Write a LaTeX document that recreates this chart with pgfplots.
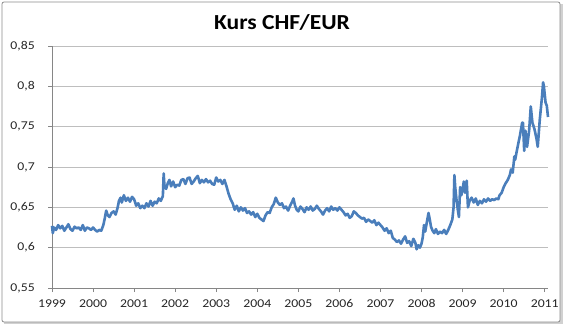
\documentclass[border=0pt]{standalone}
\usepackage{pgfplots}
\pgfplotsset{compat=1.18}
\usepackage{fontspec}
\setmainfont{Carlito}
\definecolor{serie}{RGB}{74,126,187}
\definecolor{gridc}{RGB}{190,190,190}
\definecolor{axc}{RGB}{134,134,134}
\definecolor{frame}{RGB}{140,140,140}
\begin{document}
\begin{tikzpicture}[x=1bp,y=1bp]
\useasboundingbox (0,0) rectangle (564,325);
\fill[black!18] (4,1) rectangle (563,321);
\draw[frame,fill=white,line width=0.8bp,rounded corners=2bp] (2,3) rectangle (560,323);
\node[anchor=base,xscale=1.1,font=\fontsize{21.5}{24}\selectfont\bfseries] at (282,296) {Kurs CHF/EUR};
\begin{axis}[
  at={(52bp,37bp)}, anchor=south west,
  scale only axis, width=496bp, height=242bp,
  xmin=1999, xmax=2011.08, ymin=0.55, ymax=0.85,
  axis x line*=bottom, axis y line*=left,
  axis line style={axc, line width=0.8bp},
  xtick={1999,2000,2001,2002,2003,2004,2005,2006,2007,2008,2009,2010,2011},
  xticklabels={1999,2000,2001,2002,2003,2004,2005,2006,2007,2008,2009,2010,2011},
  ytick={0.55,0.6,0.65,0.7,0.75,0.8,0.85},
  yticklabels={{0,55},{0,6},{0,65},{0,7},{0,75},{0,8},{0,85}},
  tick align=outside, major tick length=4bp,
  tick style={axc, line width=0.8bp},
  ymajorgrids, grid style={gridc, line width=0.8bp},
  tick label style={font=\fontsize{12}{14}\selectfont, text=black!85, xscale=1.15},
  xticklabel style={yshift=-4bp},
  yticklabel style={xshift=-8bp},
  /pgf/number format/assume math mode=true,
  clip=false,
]
\addplot[serie, line width=2.6bp, line join=round] table {
1999.00 0.627
1999.02 0.618
1999.05 0.625
1999.10 0.622
1999.15 0.628
1999.20 0.624
1999.25 0.627
1999.30 0.621
1999.35 0.625
1999.40 0.629
1999.45 0.623
1999.50 0.621
1999.55 0.626
1999.60 0.624
1999.65 0.625
1999.70 0.622
1999.75 0.628
1999.80 0.621
1999.85 0.625
1999.90 0.624
1999.95 0.622
2000.00 0.625
2000.05 0.622
2000.10 0.620
2000.15 0.622
2000.20 0.621
2000.25 0.628
2000.28 0.635
2000.32 0.646
2000.36 0.640
2000.40 0.638
2000.45 0.643
2000.50 0.645
2000.55 0.641
2000.60 0.650
2000.63 0.658
2000.67 0.662
2000.70 0.656
2000.75 0.665
2000.80 0.658
2000.85 0.662
2000.90 0.657
2000.95 0.663
2001.00 0.660
2001.05 0.652
2001.10 0.655
2001.15 0.649
2001.20 0.652
2001.25 0.649
2001.30 0.655
2001.35 0.651
2001.40 0.658
2001.45 0.652
2001.50 0.657
2001.55 0.655
2001.60 0.661
2001.65 0.658
2001.70 0.664
2001.72 0.692
2001.74 0.675
2001.78 0.673
2001.82 0.680
2001.86 0.684
2001.90 0.676
2001.95 0.682
2002.00 0.675
2002.05 0.678
2002.10 0.677
2002.15 0.684
2002.20 0.685
2002.25 0.679
2002.30 0.686
2002.35 0.687
2002.40 0.679
2002.45 0.682
2002.50 0.686
2002.55 0.689
2002.60 0.680
2002.65 0.684
2002.70 0.681
2002.75 0.685
2002.80 0.681
2002.85 0.683
2002.90 0.679
2002.95 0.678
2003.00 0.687
2003.05 0.682
2003.10 0.684
2003.15 0.679
2003.20 0.684
2003.25 0.676
2003.30 0.667
2003.35 0.660
2003.40 0.655
2003.45 0.647
2003.50 0.652
2003.55 0.645
2003.60 0.650
2003.65 0.646
2003.70 0.649
2003.75 0.643
2003.80 0.645
2003.85 0.641
2003.90 0.644
2003.95 0.638
2004.00 0.642
2004.05 0.637
2004.10 0.635
2004.15 0.633
2004.20 0.640
2004.25 0.644
2004.30 0.643
2004.35 0.650
2004.40 0.654
2004.45 0.662
2004.50 0.656
2004.55 0.653
2004.60 0.655
2004.65 0.649
2004.70 0.651
2004.75 0.646
2004.80 0.652
2004.85 0.657
2004.88 0.661
2004.92 0.652
2004.96 0.647
2005.00 0.645
2005.05 0.651
2005.10 0.648
2005.15 0.644
2005.20 0.650
2005.25 0.647
2005.30 0.651
2005.35 0.646
2005.40 0.648
2005.45 0.652
2005.50 0.648
2005.55 0.645
2005.60 0.641
2005.65 0.646
2005.70 0.649
2005.75 0.645
2005.80 0.651
2005.85 0.647
2005.90 0.649
2005.95 0.646
2006.00 0.650
2006.05 0.647
2006.10 0.644
2006.15 0.640
2006.20 0.642
2006.25 0.637
2006.30 0.639
2006.35 0.645
2006.40 0.643
2006.45 0.640
2006.50 0.638
2006.55 0.636
2006.60 0.637
2006.65 0.632
2006.70 0.635
2006.75 0.633
2006.80 0.631
2006.85 0.634
2006.90 0.628
2006.95 0.631
2007.00 0.628
2007.05 0.625
2007.10 0.621
2007.15 0.624
2007.20 0.618
2007.25 0.621
2007.30 0.612
2007.35 0.610
2007.40 0.607
2007.45 0.609
2007.50 0.605
2007.55 0.610
2007.60 0.614
2007.65 0.606
2007.70 0.608
2007.75 0.602
2007.80 0.611
2007.85 0.606
2007.88 0.598
2007.92 0.603
2007.96 0.600
2008.00 0.605
2008.03 0.613
2008.06 0.628
2008.09 0.620
2008.13 0.632
2008.17 0.643
2008.20 0.635
2008.23 0.626
2008.27 0.621
2008.31 0.618
2008.35 0.623
2008.40 0.617
2008.45 0.620
2008.50 0.618
2008.55 0.622
2008.60 0.617
2008.65 0.622
2008.70 0.628
2008.75 0.635
2008.78 0.650
2008.80 0.690
2008.82 0.675
2008.85 0.660
2008.88 0.648
2008.91 0.638
2008.94 0.675
2008.97 0.665
2009.00 0.673
2009.03 0.682
2009.06 0.668
2009.10 0.683
2009.13 0.650
2009.17 0.658
2009.22 0.662
2009.27 0.656
2009.32 0.661
2009.37 0.653
2009.42 0.658
2009.47 0.655
2009.52 0.660
2009.57 0.657
2009.62 0.661
2009.67 0.658
2009.72 0.660
2009.77 0.659
2009.82 0.661
2009.87 0.660
2009.90 0.665
2009.95 0.668
2010.00 0.675
2010.05 0.680
2010.10 0.684
2010.15 0.690
2010.18 0.697
2010.22 0.693
2010.26 0.713
2010.28 0.709
2010.32 0.720
2010.36 0.730
2010.40 0.740
2010.45 0.755
2010.47 0.755
2010.50 0.720
2010.53 0.745
2010.57 0.725
2010.62 0.745
2010.66 0.775
2010.70 0.755
2010.75 0.747
2010.80 0.735
2010.83 0.725
2010.88 0.759
2010.93 0.785
2010.96 0.805
2010.98 0.800
2011.02 0.780
2011.05 0.776
2011.08 0.762
};
\end{axis}
\end{tikzpicture}
\end{document}
